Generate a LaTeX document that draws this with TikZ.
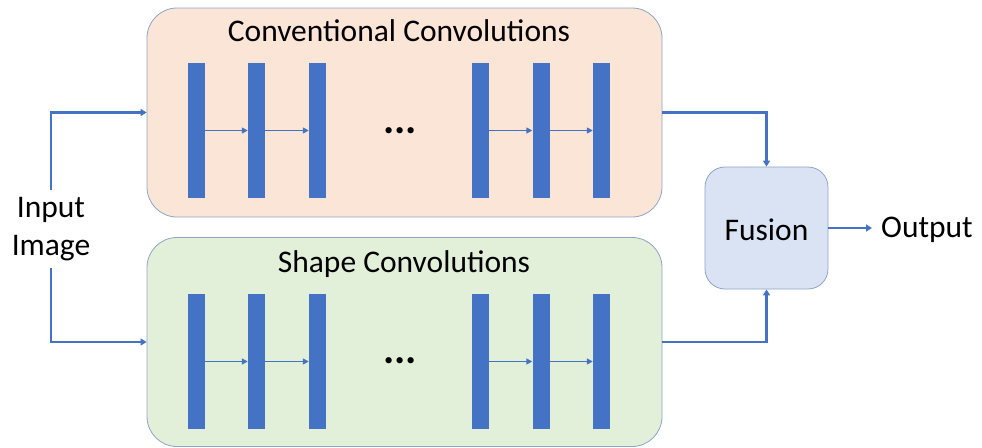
\documentclass[tikz,border=0pt]{standalone}
\usepackage{fontspec}
\setmainfont{Carlito}
\usetikzlibrary{arrows.meta}
\definecolor{barblue}{HTML}{4472C4}
\definecolor{peach}{HTML}{FBE5D6}
\definecolor{mint}{HTML}{E2F0D9}
\definecolor{paleblue}{HTML}{DAE3F3}
\definecolor{edge}{HTML}{8EA4C8}
\tikzset{
  panel/.style={draw=edge, line width=0.8pt, rounded corners=30pt, minimum width=515pt, minimum height=209pt, inner sep=0pt},
  layer/.style={fill=barblue, draw=none, minimum width=17pt, minimum height=135pt, inner sep=0pt},
  flow/.style={draw=barblue, line width=2.2pt, -{Triangle[length=6pt,width=7pt]}},
  link/.style={draw=barblue, line width=1.9pt, -{Triangle[length=6pt,width=6pt]}},
  label/.style={font=\fontsize{31.5}{38}\selectfont, text=black, inner sep=0pt},
  dots/.style={font=\fontsize{42}{42}\selectfont\bfseries, inner sep=0pt}
}
\begin{document}
\begin{tikzpicture}[x=1pt,y=-1pt]
\useasboundingbox (0,0) rectangle (982,447);
% two branches
\node[panel, fill=peach] (top) at (404.5,112.5) {};
\node[panel, fill=mint] (bot) at (404.5,342) {};
\node[label, anchor=base] (ttop) at (399,41) {Conventional Convolutions};
\node[label, anchor=base] (tbot) at (404,272) {Shape Convolutions};
% convolution layers of each branch
\foreach \i/\x in {1/196,2/256.5,3/317.5,4/480.5,5/541,6/601.5}{
  \node[layer] (a\i) at (\x,130.5) {};
  \node[layer] (b\i) at (\x,361.5) {};
}
\foreach \i/\j in {1/2,2/3,4/5,5/6}{
  \draw[link] (a\i.east) -- (a\j.west);
  \draw[link] (b\i.east) -- (b\j.west);
}
\node[dots] (da) at (400,131) {...};
\node[dots] (db) at (400,361) {...};
% input, fusion, output
\node[label, align=center, inner sep=7pt] (in) at (51,229) {Input\\Image};
\node[draw=edge, fill=paleblue, line width=0.8pt, rounded corners=20pt, minimum width=123pt, minimum height=122pt, inner sep=0pt] (fus) at (766.5,228) {};
\node[label] (ftxt) at (766.5,230) {Fusion};
\node[label, anchor=west] (out) at (881,230) {Output};
\coordinate (outtip) at ([xshift=-9pt]fus.east -| out.west);
\draw[flow] (in.north) |- (top.west);
\draw[flow] (in.south) |- (bot.west);
\draw[flow] (top.east) -| (fus.north);
\draw[flow] (bot.east) -| (fus.south);
\draw[flow] (fus.east) -- (outtip);
\end{tikzpicture}
\end{document}
